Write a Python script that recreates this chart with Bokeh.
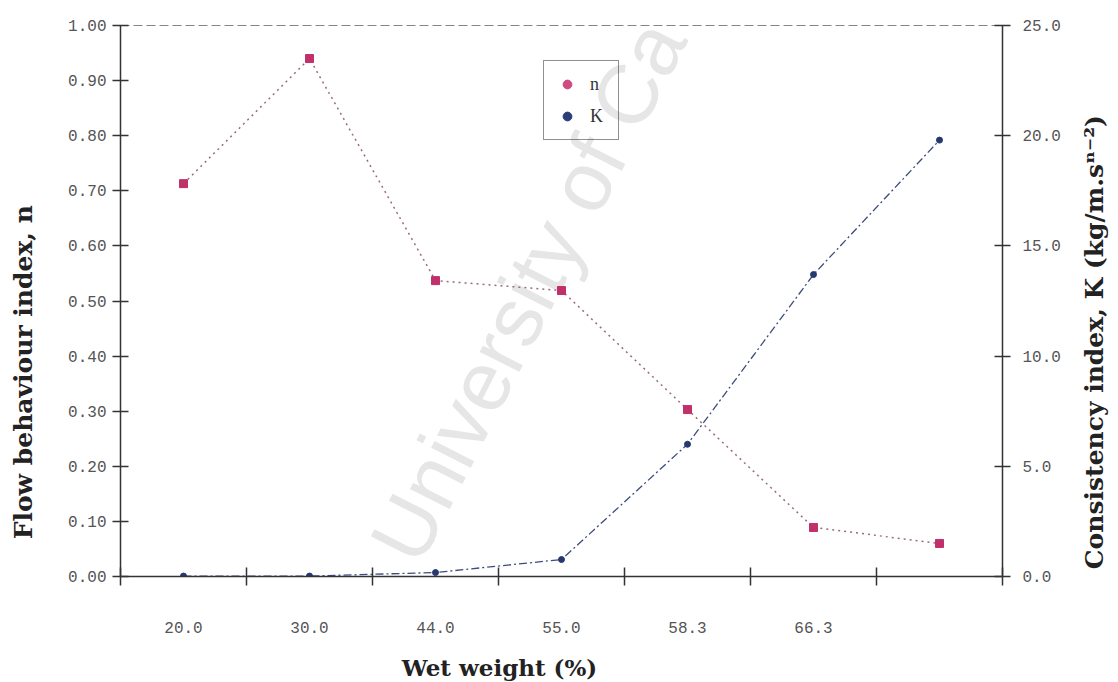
import math
from bokeh.plotting import figure
from bokeh.layouts import row, column
from bokeh.models import (Range1d, LinearAxis, FixedTicker, Legend, LegendItem,
                          Label, NumeralTickFormatter)
from bokeh.embed import file_html
from bokeh.resources import INLINE

# ---- data ----
categories = ["20.0", "30.0", "44.0", "55.0", "58.3", "66.3", ""]
n_values = [0.713, 0.940, 0.537, 0.519, 0.303, 0.089, 0.060]
k_values = [0.02, 0.02, 0.18, 0.77, 6.0, 13.7, 19.8]
n_ticks = [0.0, 0.1, 0.2, 0.3, 0.4, 0.5, 0.6, 0.7, 0.8, 0.9, 1.0]
k_ticks = [0.0, 5.0, 10.0, 15.0, 20.0, 25.0]
x_title = "Wet weight (%)"
n_title = "Flow behaviour index, n"
k_title = "Consistency index, K (kg/m.s\u207f\u207b\u00b2)"
watermark = "University of Ca"

xs = [i + 0.5 for i in range(len(categories))]
edges = list(range(len(categories) + 1))

TICK_FONT = "Liberation Mono"
LABEL_FONT = "DejaVu Serif"
TICK_COLOR = "#555555"
AXIS_COLOR = "#333333"

W, H = 1118, 682
SIDE_L, SIDE_R, BOTTOM = 45, 45, 40
PW, PH = W - SIDE_L - SIDE_R, H - BOTTOM

p = figure(width=PW, height=PH, output_backend="svg", toolbar_location=None,
           x_range=Range1d(0, len(categories)), y_range=Range1d(0, 1.0),
           min_border_left=120 - SIDE_L, min_border_right=PW - (1002 - SIDE_L),
           min_border_top=25, min_border_bottom=PH - 576,
           x_axis_location=None, y_axis_location=None)
p.extra_y_ranges = {"k": Range1d(0, 25)}
p.xgrid.visible = False
p.ygrid.visible = False
p.background_fill_color = "white"
p.border_fill_color = "white"
p.outline_line_color = "#666666"
p.outline_line_dash = "9 4"
p.outline_line_alpha = 0.8

# watermark (kept inside the plot area)
wm = Label(x=2.5, y=0.0, text=watermark, angle=1.1,
           text_font="Liberation Sans", text_font_size="84px",
           text_color="#e6e6e6", level="underlay")
p.add_layout(wm)

# axes
xaxis = LinearAxis(ticker=FixedTicker(ticks=xs, minor_ticks=edges))
xaxis.major_label_overrides = {x: c for x, c in zip(xs, categories)}
xaxis.major_tick_in = 0
xaxis.major_tick_out = 0
xaxis.minor_tick_in = 9
xaxis.minor_tick_out = 9
xaxis.major_label_standoff = 36
p.add_layout(xaxis, "below")

yaxis = LinearAxis(ticker=FixedTicker(ticks=n_ticks, minor_ticks=[]),
                   formatter=NumeralTickFormatter(format="0.00"))
yaxis.major_label_standoff = 6
p.add_layout(yaxis, "left")

kaxis = LinearAxis(y_range_name="k", ticker=FixedTicker(ticks=k_ticks, minor_ticks=[]),
                   formatter=NumeralTickFormatter(format="0.0"))
kaxis.major_label_standoff = 12
p.add_layout(kaxis, "right")

for ax in (yaxis, kaxis):
    ax.major_tick_in = 8
    ax.major_tick_out = 8

for ax in (xaxis, yaxis, kaxis):
    ax.axis_line_color = AXIS_COLOR
    ax.axis_line_width = 1.5
    ax.major_tick_line_color = AXIS_COLOR
    ax.minor_tick_line_color = AXIS_COLOR if ax is xaxis else None
    ax.major_tick_line_width = 1.5
    ax.minor_tick_line_width = 1.5
    ax.major_label_text_font = TICK_FONT
    ax.major_label_text_font_size = "16px"
    ax.major_label_text_color = TICK_COLOR

# series
p.line(xs, n_values, line_color="#9a6a82", line_width=1.5, line_dash="2 4")
p.scatter(xs, n_values, marker="square", size=8, fill_color="#c0306a",
          line_color="#c0306a")
p.line(xs, k_values, y_range_name="k", line_color="#3e4c7c", line_width=1.3,
       line_dash="8 3 2 3")
p.scatter(xs, k_values, y_range_name="k", marker="circle", size=6,
          fill_color="#26386e", line_color="#26386e")

# legend glyphs (small dots as in the reference), drawn off-range
ln = p.scatter([-5], [-5], marker="circle", size=5, fill_color="#d04a80",
               line_color="#d04a80")
lk = p.scatter([-5], [-5], marker="circle", size=5, fill_color="#2a3e78",
               line_color="#2a3e78")
legend = Legend(items=[LegendItem(label="n", renderers=[ln]),
                       LegendItem(label="K", renderers=[lk])],
                location=(423, 436), orientation="vertical")
legend.border_line_color = "#222222"
legend.border_line_width = 1.3
legend.background_fill_alpha = 0.0
legend.label_text_font = "Liberation Serif"
legend.label_text_font_size = "18px"
legend.label_text_color = "#333333"
legend.glyph_width = 22
legend.glyph_height = 22
legend.label_height = 22
legend.spacing = 10
legend.padding = 12
legend.margin = 0
legend.label_standoff = 12
legend.label_width = 16
p.add_layout(legend, "center")


# ---- title strips (hold the axis titles at the reference positions) ----
def strip(w, h):
    f = figure(width=w, height=h, output_backend="svg", toolbar_location=None,
               x_range=Range1d(0, w), y_range=Range1d(0, h),
               min_border=0, x_axis_location=None, y_axis_location=None)
    f.xgrid.visible = False
    f.ygrid.visible = False
    f.outline_line_color = None
    f.background_fill_color = "white"
    f.border_fill_color = "white"
    return f


title_style = dict(text_font=LABEL_FONT, text_font_style="bold",
                   text_color="#222222", text_align="center",
                   text_baseline="middle")

qL = strip(SIDE_L, PH)
qL.add_layout(Label(x=23, y=PH - 404, text=n_title, angle=math.pi / 2,
                    text_font_size="25px", **title_style))
qR = strip(SIDE_R, PH)
qR.add_layout(Label(x=1094 - (W - SIDE_R), y=PH - 369, text=k_title,
                    angle=math.pi / 2, text_font_size="25px", **title_style))
qB = strip(W, BOTTOM)
qB.add_layout(Label(x=499, y=BOTTOM - 25, text=x_title,
                    text_font_size="23px", **title_style))

layout = column(row(qL, p, qR, spacing=0), qB, spacing=0)
open("out.html", "w").write(file_html(layout, INLINE))
